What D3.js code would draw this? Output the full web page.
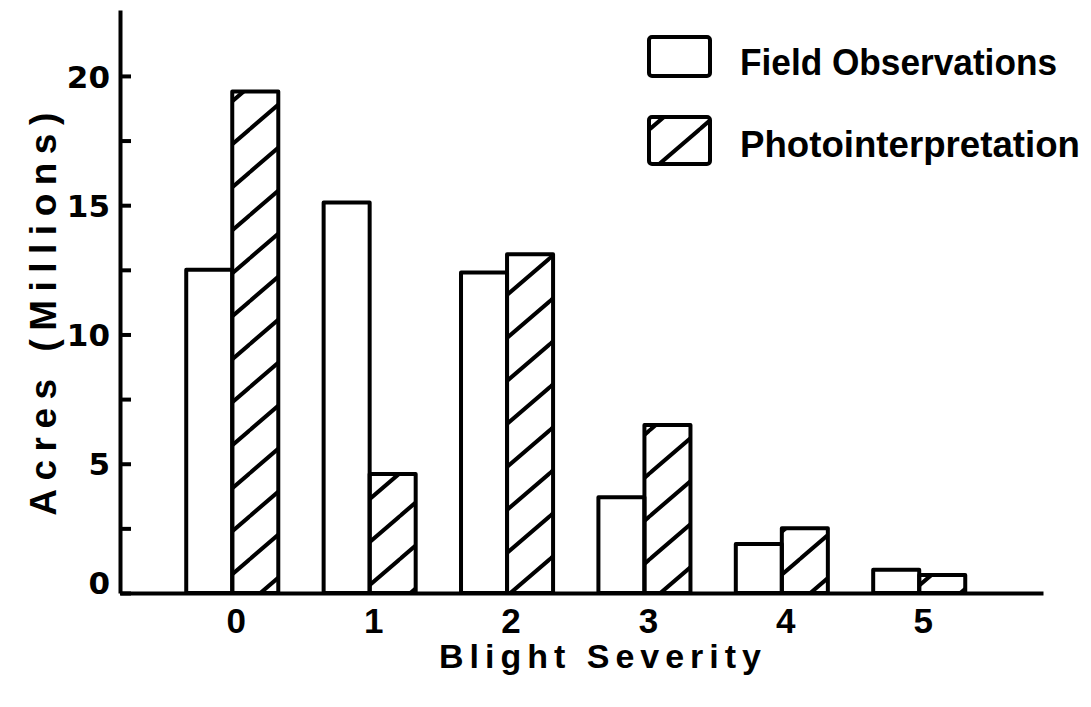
<!DOCTYPE html>
<html>
<head>
<meta charset="utf-8">
<script src="https://cdn.jsdelivr.net/npm/d3@7"></script>
<style>
  body { margin: 0; background: #fff; }
</style>
</head>
<body>
<div id="chart"></div>
<script>
// blight severity classes and acreage (millions)
const severity = ['0', '1', '2', '3', '4', '5'];
const fieldObs = [12.5, 15.1, 12.4, 3.7, 1.9, 0.9];
const photoInt = [19.4, 4.6, 13.1, 6.5, 2.5, 0.7];
const seriesNames = ['Field Observations', 'Photointerpretation'];
const yTicks = [0, 2.5, 5, 7.5, 10, 12.5, 15, 17.5, 20];
const yLabels = [0, 5, 10, 15, 20];

const width = 1091, height = 707;
const sans = '"Liberation Sans", Arial, sans-serif';

const svg = d3.select('#chart').append('svg')
    .attr('width', width)
    .attr('height', height);

// hatch for photointerpretation bars
const defs = svg.append('defs');
const pat = defs.append('pattern')
    .attr('id', 'hatch')
    .attr('patternUnits', 'userSpaceOnUse')
    .attr('width', 50)
    .attr('height', 43);
pat.append('path')
    .attr('d', 'M0,43 L50,0 M-6,5 L6,-5 M44,48 L56,38')
    .attr('stroke', '#000')
    .attr('stroke-width', 4)
    .attr('stroke-linecap', 'round');

const x = d3.scaleBand()
    .domain(severity)
    .range([120, 1043])
    .paddingInner(0.33)
    .paddingOuter(0.524)
    .align(0.46);

const y = d3.scaleLinear()
    .domain([0, 22.55])
    .range([593, 10]);

// y axis, ticks pointing inward
const yAxis = d3.axisLeft(y)
    .tickValues(yTicks)
    .tickSizeInner(-11)
    .tickSizeOuter(0)
    .tickPadding(10)
    .tickFormat(d => yLabels.includes(d) ? d : '');

const gy = svg.append('g')
    .attr('transform', 'translate(120,0)')
    .call(yAxis);
gy.select('.domain').attr('stroke-width', 4).attr('stroke', '#000');
gy.selectAll('.tick line').attr('stroke-width', 4).attr('stroke', '#000');
gy.selectAll('.tick text')
    .style('font-size', '31px')
    .style('font-family', '"DejaVu Sans", sans-serif')
    .style('font-weight', 'bold')
    .attr('fill', '#000')
    .attr('dy', d => d === 0 ? '0' : '0.36em');

// bars
const groups = svg.append('g');
for (let i = 0; i < severity.length; i++) {
    let x0 = x(severity[i]);
    let bw = x.bandwidth() / 2;
    groups.append('rect')
        .attr('x', x0)
        .attr('y', y(fieldObs[i]))
        .attr('width', bw)
        .attr('height', y(0) - y(fieldObs[i]))
        .attr('fill', '#fff')
        .attr('stroke', '#000')
        .attr('stroke-width', 4)
        .attr('stroke-linejoin', 'round');
    groups.append('rect')
        .attr('x', x0 + bw)
        .attr('y', y(photoInt[i]))
        .attr('width', bw)
        .attr('height', y(0) - y(photoInt[i]))
        .attr('fill', 'url(#hatch)')
        .attr('stroke', '#000')
        .attr('stroke-width', 4)
        .attr('stroke-linejoin', 'round');
}

// x axis
const xAxis = d3.axisBottom(x).tickSize(0).tickPadding(15);
const gx = svg.append('g')
    .attr('transform', 'translate(0,' + y(0) + ')')
    .call(xAxis);
gx.select('.domain').attr('stroke-width', 4).attr('stroke', '#000');
gx.selectAll('.tick text')
    .style('font-size', '35px')
    .style('font-family', sans)
    .style('font-weight', 'bold')
    .attr('fill', '#000')
    .attr('dx', 4);

// axis titles
svg.append('text')
    .attr('x', 603)
    .attr('y', 668)
    .attr('text-anchor', 'middle')
    .style('font-family', sans)
    .style('font-weight', 'bold')
    .style('font-size', '34px')
    .style('letter-spacing', '6px')
    .text('Blight Severity');

svg.append('text')
    .attr('transform', 'translate(56,310) rotate(-90)')
    .attr('text-anchor', 'middle')
    .style('font-family', sans)
    .style('font-weight', 'bold')
    .style('font-size', '37px')
    .style('letter-spacing', '8.5px')
    .text('Acres (Millions)');

// legend
const legend = svg.append('g');
const legendY = [37, 117];
const legendH = [39, 47];
const legendFill = ['#fff', 'url(#hatch)'];
const legendBase = [75, 157];
const legendLen = [317, 340];
for (let i = 0; i < seriesNames.length; i++) {
    legend.append('rect')
        .attr('x', 649)
        .attr('y', legendY[i])
        .attr('width', 61)
        .attr('height', legendH[i])
        .attr('rx', 3)
        .attr('fill', legendFill[i])
        .attr('stroke', '#000')
        .attr('stroke-width', 4);
    legend.append('text')
        .attr('x', 740)
        .attr('y', legendBase[i])
        .attr('textLength', legendLen[i])
        .attr('lengthAdjust', 'spacingAndGlyphs')
        .style('font-family', sans)
        .style('font-weight', 'bold')
        .style('font-size', '37px')
        .text(seriesNames[i]);
}
</script>
</body>
</html>
